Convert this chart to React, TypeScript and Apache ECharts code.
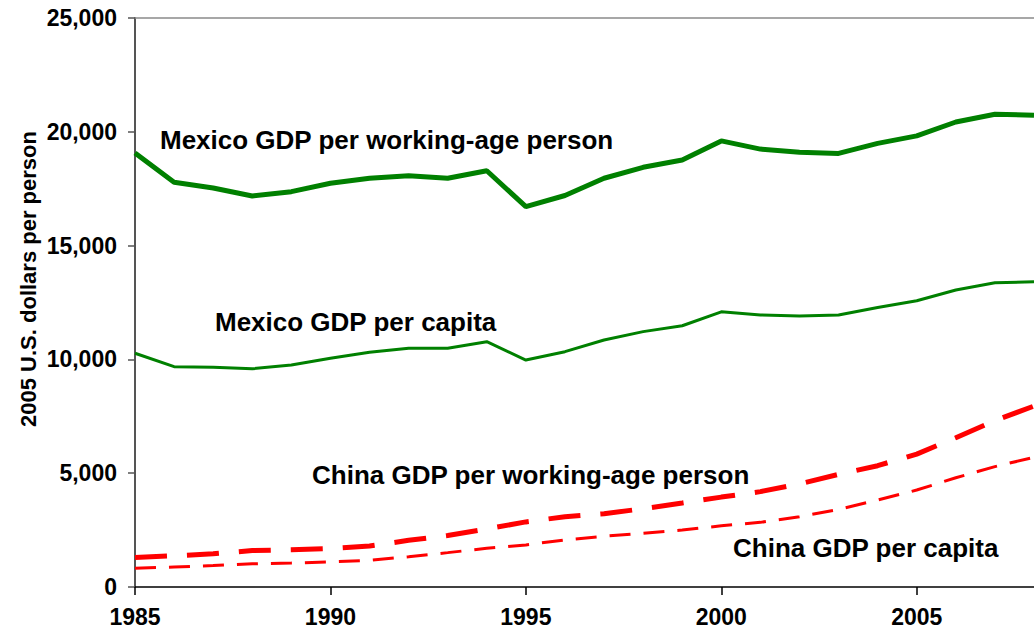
import React, { useEffect, useRef } from "react";
import * as echarts from "echarts";

const years = [1985, 1986, 1987, 1988, 1989, 1990, 1991, 1992, 1993, 1994, 1995, 1996, 1997, 1998, 1999, 2000, 2001, 2002, 2003, 2004, 2005, 2006, 2007, 2008];
const mexicoWorking = [19070, 17780, 17530, 17180, 17370, 17740, 17960, 18070, 17960, 18290, 16710, 17200, 17960, 18440, 18760, 19600, 19240, 19100, 19050, 19490, 19820, 20430, 20770, 20730];
const mexicoCapita = [10270, 9680, 9650, 9590, 9750, 10050, 10310, 10490, 10490, 10780, 9970, 10340, 10850, 11220, 11480, 12090, 11950, 11910, 11950, 12280, 12580, 13050, 13370, 13410];
const chinaWorking = [1300, 1370, 1460, 1600, 1640, 1690, 1800, 2050, 2260, 2550, 2860, 3090, 3220, 3440, 3690, 3950, 4190, 4530, 4950, 5330, 5840, 6560, 7310, 7950];
const chinaCapita = [820, 880, 940, 1020, 1050, 1100, 1170, 1330, 1510, 1700, 1850, 2070, 2230, 2360, 2500, 2690, 2840, 3090, 3410, 3820, 4260, 4800, 5290, 5700];

const yTitle = "2005 U.S. dollars per person";
const labelMexicoWorking = "Mexico GDP per working-age person";
const labelMexicoCapita = "Mexico GDP per capita";
const labelChinaWorking = "China GDP per working-age person";
const labelChinaCapita = "China GDP per capita";

const FONT = '"Liberation Sans", Arial, sans-serif';
const GREEN = "#008000";
const RED = "#ff0000";

const pairs = (vals: number[]) => years.map((y, i) => [y, vals[i]]);

export default function App() {
  const ref = useRef<HTMLDivElement>(null);
  useEffect(() => {
    if (!ref.current) return;
    const chart = echarts.init(ref.current, undefined, { renderer: "svg" });
    const annot = (text: string, x: number, y: number) => ({
      type: "text",
      x,
      y,
      style: {
        text,
        fill: "#000",
        fontFamily: FONT,
        fontWeight: "bold",
        fontSize: 26,
        align: "left",
        verticalAlign: "middle",
      },
    });
    chart.setOption({
      animation: false,
      backgroundColor: "#fff",
      grid: { left: 135, right: -7, top: 18, bottom: 50 },
      xAxis: [
        {
          type: "value",
          min: 1985,
          max: 2008,
          interval: 5,
          axisLine: { show: true, lineStyle: { color: "#000", width: 1.5 } },
          axisTick: { show: true, length: 8, lineStyle: { color: "#000", width: 1.5 } },
          axisLabel: {
            showMaxLabel: false,
            margin: 18,
            formatter: (v: number) => String(v),
            color: "#000",
            fontFamily: FONT,
            fontWeight: "bold",
            fontSize: 23,
          },
          splitLine: { show: false },
        },
        {
          type: "value",
          position: "top",
          min: 1985,
          max: 2008,
          axisLine: { show: true, lineStyle: { color: "#8a8a8a", width: 1.5 } },
          axisTick: { show: false },
          axisLabel: { show: false },
          splitLine: { show: false },
        },
      ],
      yAxis: {
        type: "value",
        min: 0,
        max: 25000,
        interval: 5000,
        axisLine: { show: true, lineStyle: { color: "#555", width: 2 } },
        axisTick: { show: true, length: 7, lineStyle: { color: "#555", width: 1.5 } },
        axisLabel: {
          margin: 18,
          color: "#000",
          fontFamily: FONT,
          fontWeight: "bold",
          fontSize: 23,
        },
        splitLine: { show: false },
      },
      series: [
        {
          type: "line",
          data: pairs(mexicoWorking),
          symbol: "none",
          lineStyle: { color: GREEN, width: 5 },
        },
        {
          type: "line",
          data: pairs(mexicoCapita),
          symbol: "none",
          lineStyle: { color: GREEN, width: 3 },
        },
        {
          type: "line",
          data: pairs(chinaWorking),
          symbol: "none",
          lineStyle: { color: RED, width: 5, type: [32, 20] },
        },
        {
          type: "line",
          data: pairs(chinaCapita),
          symbol: "none",
          lineStyle: { color: RED, width: 3, type: [21, 13] },
        },
      ],
      graphic: [
        {
          type: "text",
          x: 28,
          y: 279,
          rotation: Math.PI / 2,
          style: {
            text: yTitle,
            fill: "#000",
            fontFamily: FONT,
            fontWeight: "bold",
            fontSize: 22,
            align: "center",
            verticalAlign: "middle",
          },
        },
        annot(labelMexicoWorking, 160, 140),
        annot(labelMexicoCapita, 215, 322),
        annot(labelChinaWorking, 312, 475),
        annot(labelChinaCapita, 733, 548),
      ],
    });
    return () => chart.dispose();
  }, []);
  return (
    <div
      ref={ref}
      style={{ position: "fixed", left: 0, top: 0, width: "1034px", height: "637px", overflow: "hidden" }}
    />
  );
}
